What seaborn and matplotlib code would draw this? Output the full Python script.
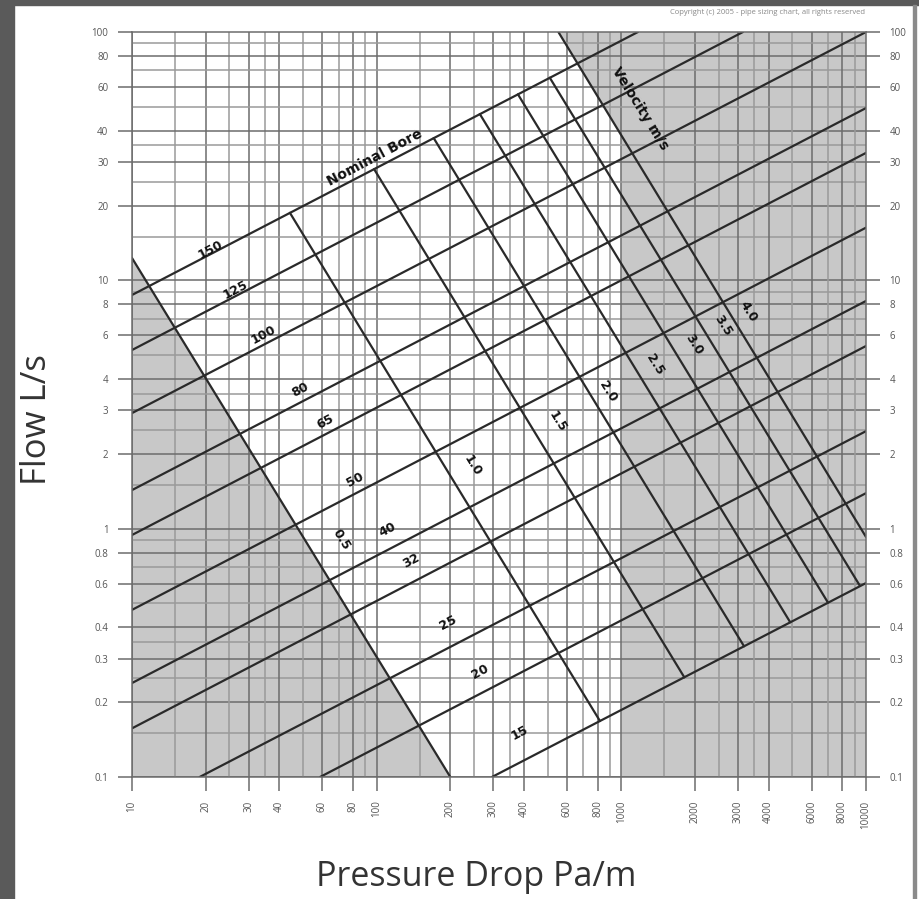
import numpy as np
import pandas as pd
import seaborn as sns
from matplotlib import pyplot as plt
from matplotlib.patches import Rectangle
from matplotlib.ticker import FixedLocator, FixedFormatter, NullLocator

# axis ticks / grid
x_ticks = [10, 20, 30, 40, 60, 80, 100, 200, 300, 400, 600, 800,
           1000, 2000, 3000, 4000, 6000, 8000, 10000]
x_tick_labels = ["10", "20", "30", "40", "60", "80", "100", "200", "300", "400",
                 "600", "800", "1000", "2000", "3000", "4000", "6000", "8000", "10000"]
y_ticks = [0.1, 0.2, 0.3, 0.4, 0.6, 0.8, 1, 2, 3, 4, 6, 8, 10, 20, 30, 40, 60, 80, 100]
y_tick_labels = ["0.1", "0.2", "0.3", "0.4", "0.6", "0.8", "1", "2", "3", "4",
                 "6", "8", "10", "20", "30", "40", "60", "80", "100"]
grid_steps = [1, 1.5, 2, 2.5, 3, 3.5, 4, 5, 6, 7, 8, 9]

# nominal bore lines (mm): start / end points (Pa/m, L/s)
bores = ["15", "20", "25", "32", "40", "50", "65", "80", "100", "125", "150"]
bore_dp0 = [296, 58.7, 18.9, 10, 10, 10, 10, 10, 10, 10, 10]
bore_q0 = [0.1, 0.1, 0.1, 0.157, 0.239, 0.471, 0.943, 1.43, 2.92, 5.24, 8.73]
bore_dp1 = [10000, 10000, 10000, 10000, 10000, 10000, 10000, 10000, 10000, 3141, 1169]
bore_q1 = [0.604, 1.39, 2.47, 5.44, 8.26, 16.3, 32.6, 49.4, 100, 100, 100]
bore_lab_dp = [385, 264, 196, 138, 111, 81.5, 61.5, 48.6, 34.6, 26.4, 21.0]
bore_lab_q = [0.150, 0.265, 0.417, 0.741, 0.988, 1.57, 2.69, 3.62, 6.03, 9.15, 13.3]

# velocity lines (m/s)
vels = ["0.5", "1.0", "1.5", "2.0", "2.5", "3.0", "3.5", "4.0"]
vel_dp0 = [10, 44.2, 97.6, 171, 264, 378, 510, 553]
vel_q0 = [12.3, 18.7, 28.05, 37.4, 46.75, 56.1, 65.45, 100]
vel_dp1 = [200, 818, 1809, 3174, 4900, 6990, 9450, 10000]
vel_q1 = [0.1, 0.168, 0.252, 0.336, 0.42, 0.504, 0.588, 0.926]
vel_lab_dp = [71.5, 247, 546, 882, 1372, 1980, 2602, 3292]
vel_lab_q = [0.90, 1.80, 2.69, 3.55, 4.56, 5.49, 6.55, 7.46]

# shaded (out of range) zones
low_zone_dp = [10, 200, 10]
low_zone_q = [12.3, 0.1, 0.1]
high_zone_dp = [553, 1000, 1000, 10000, 10000]
high_zone_q = [100, 39, 0.1, 0.1, 100]

rows = []
for i, b in enumerate(bores):
    rows.append(("bore " + b, bore_dp0[i], bore_q0[i]))
    rows.append(("bore " + b, bore_dp1[i], bore_q1[i]))
for i, v in enumerate(vels):
    rows.append(("vel " + v, vel_dp0[i], vel_q0[i]))
    rows.append(("vel " + v, vel_dp1[i], vel_q1[i]))
lines = pd.DataFrame(rows, columns=["line", "dp", "flow"])

sns.set_theme(style="white")
plt.rcParams['font.family'] = ['Open Sans', 'DejaVu Sans']

fig = plt.figure(figsize=(9.2, 8.99), dpi=100)
ax = fig.add_axes([132/920, 122/899, 734/920, 745/899])
ax.set_xscale('log')
ax.set_yscale('log')
ax.set_xlim(10, 10000)
ax.set_ylim(0.1, 100)

ax.fill(low_zone_dp, low_zone_q, color='#c8c8c8', lw=0, zorder=0)
ax.fill(high_zone_dp, high_zone_q, color='#c8c8c8', lw=0, zorder=0)

# grid
for k in range(1, 4):
    for s in grid_steps:
        xv = s * 10**k
        yv = s * 10**(k - 2)
        major_x = xv in x_ticks
        major_y = np.isclose(yv, y_ticks).any()
        ax.axvline(xv, color='#6c6c6c' if major_x else '#9a9a9a', lw=1.1, zorder=1)
        ax.axhline(yv, color='#6c6c6c' if major_y else '#9a9a9a', lw=1.1, zorder=1)

sns.lineplot(data=lines, x="dp", y="flow", units="line", estimator=None, sort=False,
             color='#2a2a2a', lw=1.6, ax=ax, legend=False, zorder=2)

lab_kw = dict(fontsize=9, fontweight='bold', color='#111111', ha='center', va='center',
              family=['DejaVu Sans'], zorder=3)
for i, b in enumerate(bores):
    ax.text(bore_lab_dp[i], bore_lab_q[i], b, rotation=28, **lab_kw)
for i, v in enumerate(vels):
    ax.text(vel_lab_dp[i], vel_lab_q[i], v, rotation=-58, **lab_kw)
big_kw = dict(lab_kw, fontsize=10)
ax.text(98.4, 31.1, "Nominal Bore", rotation=28, **big_kw)
ax.text(1191, 49.4, "Velocity m/s", rotation=-58, **big_kw)

ax.xaxis.set_major_locator(FixedLocator(x_ticks))
ax.xaxis.set_major_formatter(FixedFormatter(x_tick_labels))
ax.yaxis.set_major_locator(FixedLocator(y_ticks))
ax.yaxis.set_major_formatter(FixedFormatter(y_tick_labels))
ax.xaxis.set_minor_locator(NullLocator())
ax.yaxis.set_minor_locator(NullLocator())
ax.tick_params(axis='both', which='major', direction='out', length=10, width=1.1,
               color='#6c6c6c', labelsize=7, labelcolor='#555555', pad=7)
ax.tick_params(axis='y', left=True, right=True, labelleft=True, labelright=True)
ax.tick_params(axis='x', bottom=True, labelrotation=90)
for sp in ax.spines.values():
    sp.set_color('#6c6c6c')
    sp.set_linewidth(1.1)
ax.set_xlabel("")
ax.set_ylabel("")

fig.text(476/920, 1 - 877/899, "Pressure Drop Pa/m", fontsize=24.5, color='#333333',
         ha='center', va='center')
fig.text(37/920, 1 - 420/899, "Flow L/s", fontsize=25, color='#333333', rotation=90,
         ha='center', va='center')
fig.text(865/920, 1 - 12/899, "Copyright (c) 2005 - pipe sizing chart, all rights reserved",
         fontsize=5.5, color='#888888', ha='right', va='center')

# page frame
fig.patches.append(Rectangle((0, 0), 14/920, 1, transform=fig.transFigure,
                             color='#5a5a5a', zorder=0))
fig.patches.append(Rectangle((0, 1 - 5/899), 1, 5/899, transform=fig.transFigure,
                             color='#5a5a5a', zorder=0))
fig.patches.append(Rectangle((913/920, 0), 3/920, 1 - 5/899, transform=fig.transFigure,
                             color='#8a8a8a', zorder=0))

plt.savefig("out.png", dpi=100)
